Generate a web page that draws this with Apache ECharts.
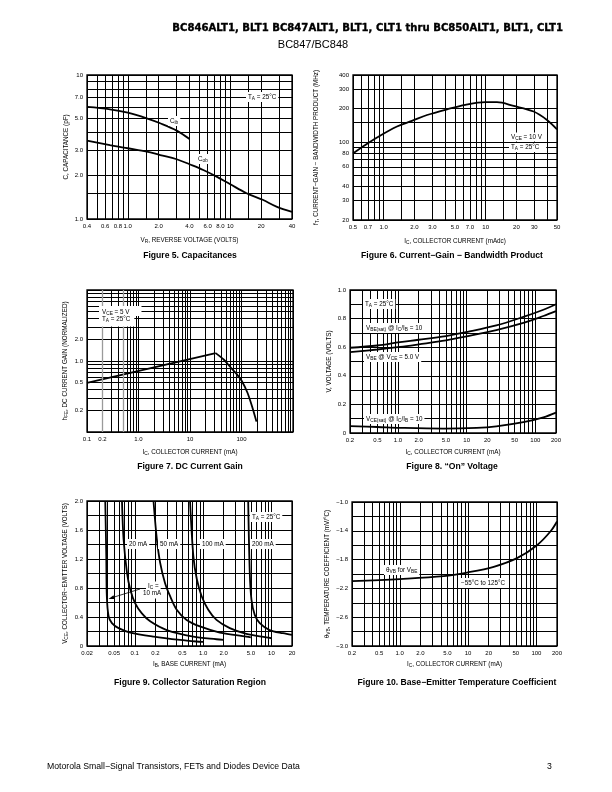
<!DOCTYPE html>
<html><head><meta charset="utf-8">
<script src="https://cdn.jsdelivr.net/npm/echarts@6/dist/echarts.min.js"></script>
<style>html,body{margin:0;padding:0;background:#fff}#c{width:612px;height:792px}</style>
</head><body><div id="c"></div>
<script>
// ---------- Figure 5: Capacitances ----------
const f5XLabels = ['0.4','0.6','0.8','1.0','2.0','4.0','6.0','8.0','10','20','40'];
const f5YLabels = ['1.0','2.0','3.0','5.0','7.0','10'];
const f5XGrid = [0.4,0.5,0.6,0.7,0.8,0.9,1,1.5,2,3,4,5,6,7,8,9,10,15,20,30,40];
const f5YGrid = [1,1.5,2,3,4,5,6,7,8,9,10];
const f5Cib = [[0.4,6.0],[0.67,5.78],[1.0,5.47],[1.53,5.0],[2.07,4.62],[3.0,4.11],[4.0,3.59]];
const f5Cob = [[0.4,3.5],[0.67,3.26],[1.0,3.1],[1.53,2.94],[2.07,2.78],[3.0,2.6],[4.0,2.4],[5.45,2.19],[7.35,1.97],[9.9,1.75],[14.4,1.51],[20.7,1.36],[28.2,1.22],[40,1.12]];

// ---------- Figure 6: Current-Gain Bandwidth ----------
const f6XLabels = ['0.5','0.7','1.0','2.0','3.0','5.0','7.0','10','20','30','50'];
const f6YLabels = ['20','30','40','60','80','100','200','300','400'];
const f6XGrid = [0.5,0.6,0.7,0.8,0.9,1,1.5,2,3,4,5,6,7,8,9,10,15,20,30,40,50];
const f6YGrid = [20,30,40,50,60,70,80,90,100,150,200,300,400];
const f6Ft = [[0.5,79],[0.66,94],[0.86,110],[1.35,138],[1.89,155],[2.66,175],[4.18,197],[6.3,216],[9.9,228],[12.9,228],[18.8,211],[29.5,188],[39.9,158],[50,130]];

// ---------- Figure 7: DC Current Gain ----------
const f7XLabels = ['0.1','0.2','1.0','10','100'];
const f7YLabels = ['0.2','0.5','1.0','2.0'];
const f7XGrid = [0.1,0.3,0.4,0.6,0.7,0.8,0.9,1,2,3,4,5,6,7,8,9,10,20,30,40,50,60,70,80,90,100,200,300,400,500,600,700,800,900,1000];
const f7XGrayGrid = [0.2,0.5];
const f7YGrid = [0.1,0.2,0.3,0.4,0.5,0.6,0.7,0.8,0.9,1,2,3,4,5,6,7,8,9,10];
const f7Rise = [[0.1,0.49],[31.5,1.29]];
const f7Fall = [[31.5,1.29],[45,1.05],[60,0.83],[80,0.66],[100,0.53],[130,0.36],[160,0.23],[195,0.14]];

// ---------- Figure 8: On Voltage ----------
const f8XLabels = ['0.2','0.5','1.0','2.0','5.0','10','20','50','100','200'];
const f8YLabels = ['0','0.2','0.4','0.6','0.8','1.0'];
const f8XGrid = [0.2,0.3,0.4,0.5,0.6,0.7,0.8,0.9,1,2,3,4,5,6,7,8,9,10,20,30,40,50,60,70,80,90,100,200];
const f8YGrid = [0,0.1,0.2,0.3,0.4,0.5,0.6,0.7,0.8,0.9,1.0];
const f8VbeSat = [[0.2,0.596],[0.5,0.612],[1.07,0.636],[2,0.652],[5,0.678],[10,0.706],[27,0.752],[67,0.812],[131,0.862],[200,0.9]];
const f8Vbe = [[0.2,0.566],[0.5,0.584],[1.07,0.602],[2,0.62],[5,0.648],[10,0.676],[27,0.72],[67,0.77],[131,0.818],[200,0.852]];
const f8VceSat = [[0.2,0.048],[0.5,0.042],[1.07,0.036],[4.57,0.031],[14,0.036],[27,0.047],[67,0.076],[131,0.11],[200,0.143]];

// ---------- Figure 9: Collector Saturation Region ----------
const f9XLabels = ['0.02','0.05','0.1','0.2','0.5','1.0','2.0','5.0','10','20'];
const f9YLabels = ['0','0.4','0.8','1.2','1.6','2.0'];
const f9XGrid = [0.02,0.03,0.04,0.05,0.06,0.07,0.08,0.09,0.1,0.2,0.3,0.4,0.5,0.6,0.7,0.8,0.9,1,2,3,4,5,6,7,8,9,10,20];
const f9YGrid = [0,0.2,0.4,0.6,0.8,1.0,1.2,1.4,1.6,1.8,2.0];
const f9Ic10 = [[0.037,2.0],[0.0383,1.24],[0.039,0.69],[0.0414,0.41],[0.0463,0.316],[0.058,0.246],[0.086,0.186],[0.19,0.13],[0.46,0.084],[0.8,0.062],[1.0,0.056]];
const f9Ic20 = [[0.065,2.0],[0.0685,1.48],[0.077,1.01],[0.086,0.78],[0.101,0.59],[0.127,0.45],[0.168,0.34],[0.294,0.22],[0.72,0.13],[1.57,0.093],[2.0,0.084]];
const f9Ic50 = [[0.188,2.0],[0.21,1.48],[0.235,1.15],[0.277,0.87],[0.328,0.69],[0.411,0.5],[0.574,0.36],[0.9,0.27],[1.76,0.186],[4.3,0.13],[5.0,0.12]];
const f9Ic100 = [[0.644,2.0],[0.72,1.24],[0.81,0.92],[0.95,0.69],[1.19,0.5],[1.57,0.36],[2.46,0.246],[4.3,0.167],[8.4,0.12],[10,0.107]];
const f9Ic200 = [[4.57,2.0],[4.82,1.01],[5.1,0.64],[5.7,0.43],[6.75,0.316],[9.4,0.22],[14.8,0.176],[20,0.153]];

// ---------- Figure 10: Base-Emitter Temperature Coefficient ----------
const f10XLabels = ['0.2','0.5','1.0','2.0','5.0','10','20','50','100','200'];
const f10YLabels = ['−3.0','−2.6','−2.2','−1.8','−1.4','−1.0'];
const f10XGrid = f8XGrid;
const f10YGrid = [-3.0,-2.8,-2.6,-2.4,-2.2,-2.0,-1.8,-1.6,-1.4,-1.2,-1.0];
const f10Theta = [[0.2,-2.10],[1.0,-2.07],[4.4,-2.03],[9.7,-1.98],[23.7,-1.9],[52,-1.78],[102,-1.6],[160,-1.41],[200,-1.27]];

// ---------- build ----------
const FONT = '"Liberation Sans", Arial, Helvetica, sans-serif';
function toNum(s){ return Number(String(s).replace('−','-')); }
function labelCfg(labels){
  const vals = labels.map(toNum);
  return { customValues: vals, showMinLabel: true, showMaxLabel: true,
    formatter: function(v){ const i = vals.findIndex(x => Math.abs(x - v) <= 1e-9*Math.max(1,Math.abs(x))); return i >= 0 ? labels[i] : ''; },
    fontSize: 6, color: '#000', fontFamily: FONT, margin: 4 };
}
const nameRich = { s: { fontSize: 4.8, lineHeight: 4, verticalAlign: 'bottom', fontFamily: FONT } };
function nameStyle(){ return { fontFamily: FONT, fontSize: 6.3, color: '#000', lineHeight: 8, rich: nameRich }; }
function axis(gi, type, min, max, grid, labels, name, nameGap){
  return { type, gridIndex: gi, min, max, logBase: 10,
    axisLine: { show: false }, axisTick: { show: false, customValues: grid },
    splitLine: { show: true, lineStyle: { color: '#000', width: 1 } },
    axisLabel: labelCfg(labels),
    name, nameLocation: 'middle', nameGap, nameTextStyle: nameStyle() };
}
const gridBox = (left, top, width, height) => ({ left, top, width, height, show: true, borderColor: '#000', borderWidth: 1.3, backgroundColor: 'transparent' });
function curve(xi, data, extra){
  return Object.assign({ type: 'line', xAxisIndex: xi, yAxisIndex: xi, data, symbol: 'none', smooth: 0.35, silent: true,
    lineStyle: { color: '#000', width: 1.8 }, animation: false }, extra || {});
}
const annRich = { s: { fontSize: 4.8, lineHeight: 4, verticalAlign: 'bottom', fontFamily: FONT, fill: '#000' } };
function txt(x, y, text, opt){
  opt = opt || {};
  return { type: 'text', x, y, z: 100, silent: true, style: Object.assign({ text, fill: '#000', fontFamily: opt.family || FONT, fontSize: opt.size || 6.3, fontWeight: opt.weight || 'normal',
    align: opt.align || 'left', verticalAlign: 'middle', textAlign: opt.align || 'left', textVerticalAlign: 'middle', lineHeight: 8,
    backgroundColor: opt.bg ? '#fff' : null, padding: opt.bg ? (opt.pad || [1,2,1,2]) : 0, rich: annRich }, opt.style || {}) };
}

const chart = echarts.init(document.getElementById('c'), null, { renderer: 'canvas', width: 612, height: 792 });
const option = {
  animation: false,
  backgroundColor: '#fff',
  grid: [
    gridBox(87, 75, 205, 144),
    gridBox(353, 75, 204, 145),
    gridBox(87, 290, 206, 142),
    gridBox(350, 290, 206, 143),
    gridBox(87, 501, 205, 145),
    gridBox(352, 502, 205, 144)
  ],
  xAxis: [
    axis(0, 'log', 0.4, 40, f5XGrid, f5XLabels, 'V{s|R}, REVERSE VOLTAGE (VOLTS)', 17),
    axis(1, 'log', 0.5, 50, f6XGrid, f6XLabels, 'I{s|C}, COLLECTOR CURRENT (mAdc)', 17),
    axis(2, 'log', 0.1, 1000, f7XGrid, f7XLabels, 'I{s|C}, COLLECTOR CURRENT (mA)', 16),
    axis(3, 'log', 0.2, 200, f8XGrid, f8XLabels, 'I{s|C}, COLLECTOR CURRENT (mA)', 15),
    axis(4, 'log', 0.02, 20, f9XGrid, f9XLabels, 'I{s|B}, BASE CURRENT (mA)', 14),
    axis(5, 'log', 0.2, 200, f10XGrid, f10XLabels, 'I{s|C}, COLLECTOR CURRENT (mA)', 14)
  ],
  yAxis: [
    axis(0, 'log', 1, 10, f5YGrid, f5YLabels, 'C, CAPACITANCE (pF)', 17),
    axis(1, 'log', 20, 400, f6YGrid, f6YLabels, 'f{s|T}, CURRENT−GAIN − BANDWIDTH PRODUCT (MHz)', 33),
    axis(2, 'log', 0.1, 10, f7YGrid, f7YLabels, 'h{s|FE}, DC CURRENT GAIN (NORMALIZED)', 18),
    axis(3, 'value', 0, 1.0, f8YGrid, f8YLabels, 'V, VOLTAGE (VOLTS)', 17),
    axis(4, 'value', 0, 2.0, f9YGrid, f9YLabels, 'V{s|CE}, COLLECTOR−EMITTER VOLTAGE (VOLTS)', 18),
    axis(5, 'value', -3.0, -1.0, f10YGrid, f10YLabels, 'θ{s|VB}, TEMPERATURE COEFFICIENT (mV/°C)', 21)
  ],
  series: [
    curve(0, f5Cib), curve(0, f5Cob),
    curve(1, f6Ft),
    curve(2, f7Rise, { smooth: false, markLine: { silent: true, symbol: 'none', label: { show: false }, animation: false,
      lineStyle: { color: '#9a9a9a', width: 1.3, type: 'solid' }, data: f7XGrayGrid.map(v => ({ xAxis: v })) } }),
    curve(2, f7Fall, { smooth: 0.3 }),
    curve(3, f8VbeSat), curve(3, f8Vbe), curve(3, f8VceSat),
    curve(4, f9Ic10, { smooth: 0.3 }), curve(4, f9Ic20, { smooth: 0.3 }), curve(4, f9Ic50, { smooth: 0.3 }), curve(4, f9Ic100, { smooth: 0.3 }), curve(4, f9Ic200, { smooth: 0.3 }),
    curve(5, f10Theta)
  ],
  graphic: [
    // header
    txt(563, 28, 'BC846ALT1, BLT1 BC847ALT1, BLT1, CLT1 thru BC850ALT1, BLT1, CLT1', { size: 10.1, weight: 'bold', align: 'right', family: '"DejaVu Sans", sans-serif', style: { stroke: '#000', lineWidth: 0.35 } }),
    txt(313, 45, 'BC847/BC848', { size: 11, align: 'center' }),
    // captions
    txt(190, 256, 'Figure 5. Capacitances', { size: 8.6, weight: 'bold', align: 'center' }),
    txt(452, 256, 'Figure 6. Current−Gain − Bandwidth Product', { size: 8.6, weight: 'bold', align: 'center' }),
    txt(190, 467, 'Figure 7. DC Current Gain', { size: 8.6, weight: 'bold', align: 'center' }),
    txt(452, 467, 'Figure 8. “On” Voltage', { size: 8.6, weight: 'bold', align: 'center' }),
    txt(190, 683, 'Figure 9. Collector Saturation Region', { size: 8.6, weight: 'bold', align: 'center' }),
    txt(457, 683, 'Figure 10. Base−Emitter Temperature Coefficient', { size: 8.6, weight: 'bold', align: 'center' }),
    // footer
    txt(47, 767, 'Motorola Small−Signal Transistors, FETs and Diodes Device Data', { size: 8.7 }),
    txt(547, 767, '3', { size: 8.7 }),
    // fig5 annotations
    txt(246, 97, 'T{s|A} = 25°C', { bg: true }),
    txt(168, 121, 'C{s|ib}', { bg: true }),
    txt(196, 159, 'C{s|ob}', { bg: true }),
    // fig6
    txt(509, 137, 'V{s|CE} = 10 V', { bg: true, pad: [1,2,0,2] }),
    txt(509, 147.5, 'T{s|A} = 25°C', { bg: true, pad: [0,7,1,2] }),
    // fig7
    txt(99, 311, 'V{s|CE} = 5 V', { bg: true, pad: [2,12,0,3] }),
    txt(99, 321, 'T{s|A} = 25°C', { bg: true, pad: [0,4,3,3] }),
    // fig8
    txt(363, 304, 'T{s|A} = 25°C', { bg: true }),
    txt(364, 328, 'V{s|BE(sat)} @ I{s|C}/I{s|B} = 10', { bg: true }),
    txt(364, 357, 'V{s|BE} @ V{s|CE} = 5.0 V', { bg: true }),
    txt(364, 419, 'V{s|CE(sat)} @ I{s|C}/I{s|B} = 10', { bg: true }),
    // fig9
    txt(250, 517, 'T{s|A} = 25°C', { bg: true }),
    txt(127, 544, '20 mA', { bg: true }),
    txt(158, 544, '50 mA', { bg: true }),
    txt(200, 544, '100 mA', { bg: true }),
    txt(250, 544, '200 mA', { bg: true }),
    txt(146, 586, 'I{s|C} =', { bg: true, pad: [1,2,0,2] }),
    txt(141, 594, '10 mA', { bg: true, pad: [0,2,1,2] }),
    { type: 'line', z: 101, silent: true, shape: { x1: 140, y1: 589, x2: 111, y2: 598 }, style: { stroke: '#000', lineWidth: 0.8 } },
    { type: 'polygon', z: 101, silent: true, shape: { points: [[108.5, 599], [113.5, 595.3], [114.8, 598.9]] }, style: { fill: '#000' } },
    // fig10
    txt(384, 570, 'θ{s|VB} for V{s|BE}', { bg: true }),
    { type: 'line', z: 101, silent: true, shape: { x1: 457.5, y1: 576, x2: 457.5, y2: 588 }, style: { stroke: '#000', lineWidth: 0.8 } },
    txt(459, 583, '−55°C to 125°C', { bg: true })
  ]
};
chart.setOption(option);
</script>
</body></html>
